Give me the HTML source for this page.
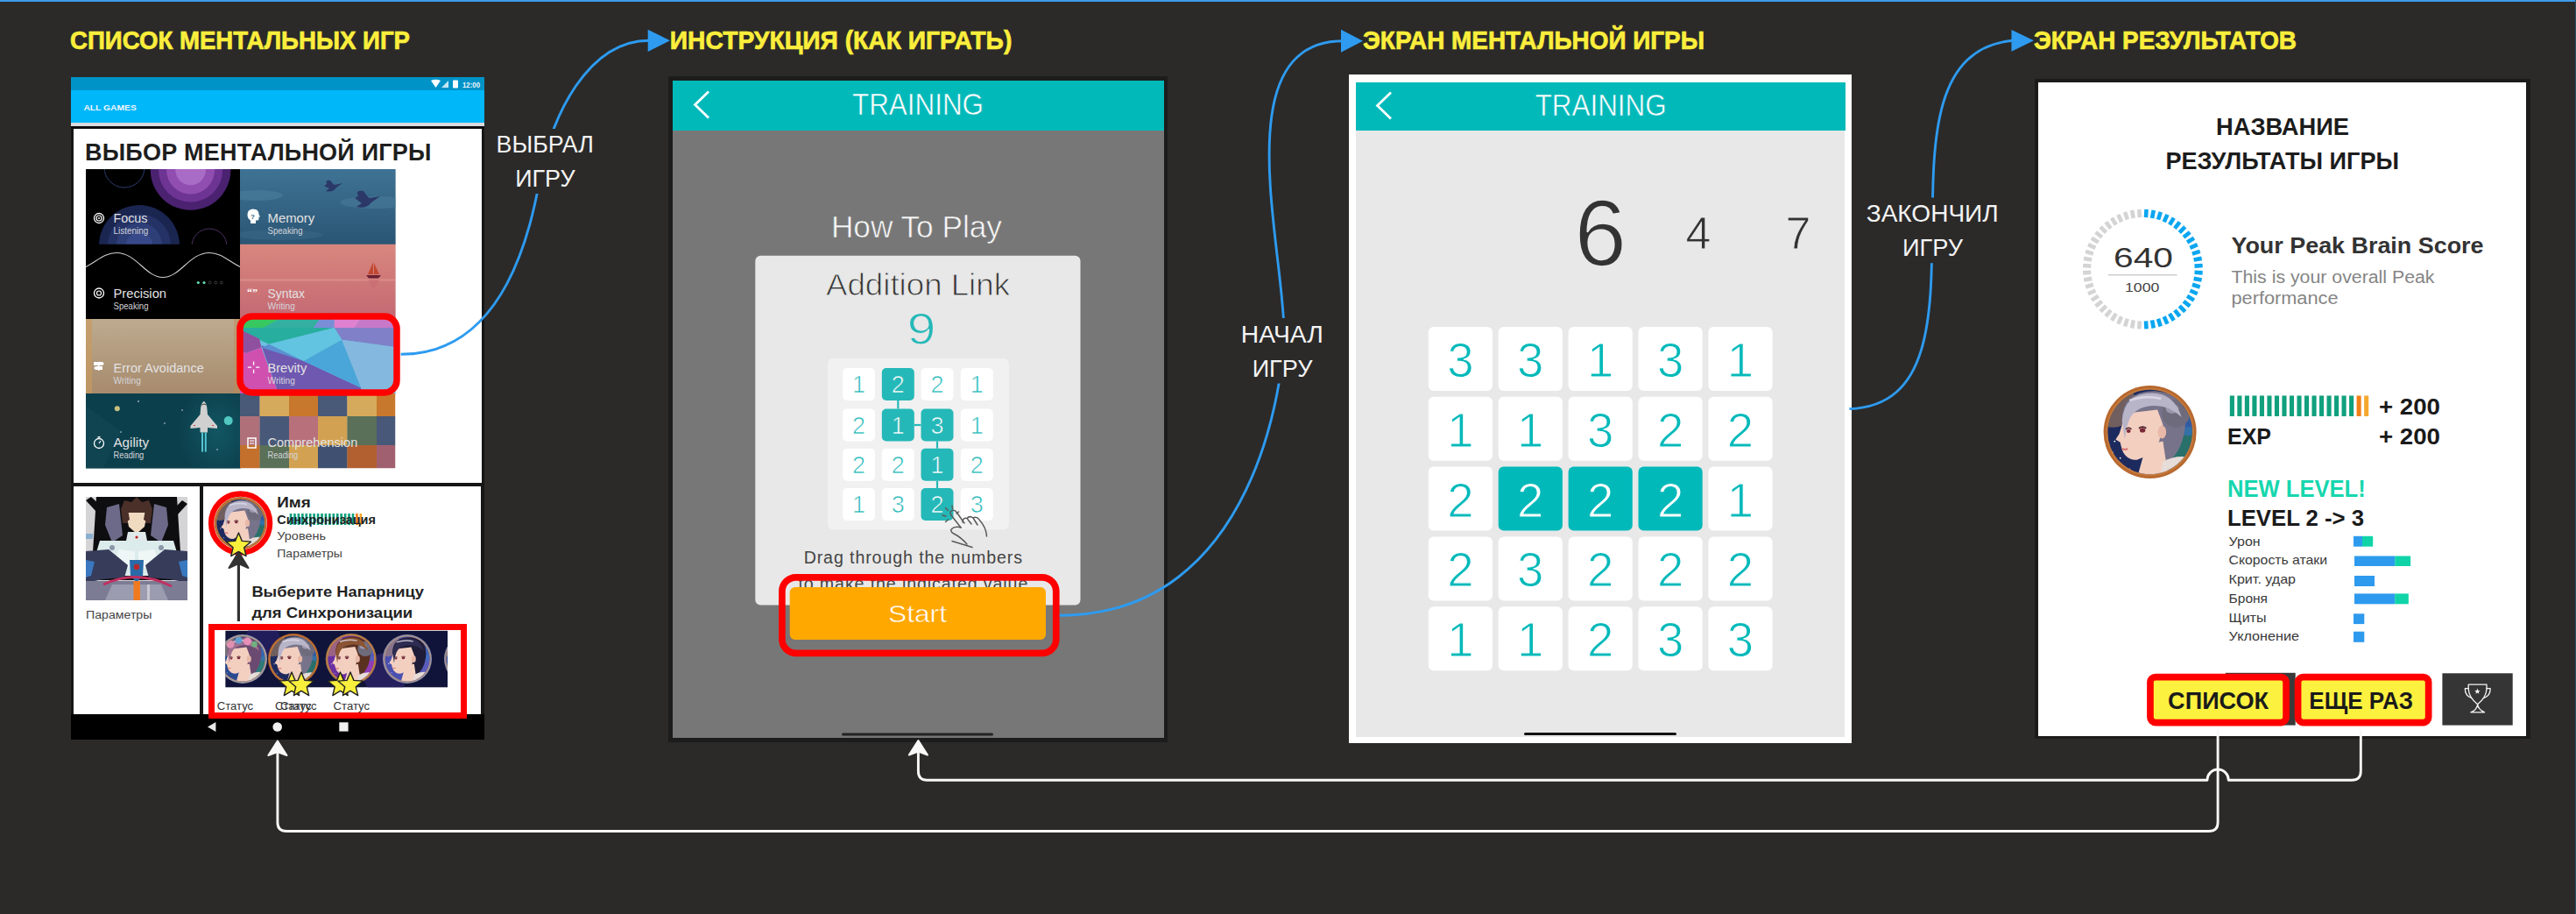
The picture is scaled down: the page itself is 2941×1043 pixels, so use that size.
<!DOCTYPE html>
<html><head><meta charset="utf-8">
<style>
html,body{margin:0;padding:0;}
body{width:2941px;height:1043px;background:#2b2a29;position:relative;overflow:hidden;font-family:"Liberation Sans",sans-serif;}
.a{position:absolute;}
.ttl{position:absolute;color:#fbee3c;font-weight:bold;font-size:28px;white-space:nowrap;line-height:1;}
.lbl{position:absolute;color:#f2f2f2;font-size:26px;text-align:center;white-space:nowrap;line-height:1;}
</style></head><body>
<div class="a" style="left:0;top:0;width:2941px;height:2px;background:#3d9be9"></div>

<!-- titles -->
<svg class="a" style="left:0;top:0" width="2941" height="80" viewBox="0 0 2941 80">
 <g font-family="Liberation Sans" font-weight="bold" font-size="29.5" fill="#fbee3c" stroke="#fbee3c" stroke-width="0.7">
  <text x="80" y="56.2" textLength="388" lengthAdjust="spacingAndGlyphs">СПИСОК МЕНТАЛЬНЫХ ИГР</text>
  <text x="764.8" y="56" textLength="390.5" lengthAdjust="spacingAndGlyphs">ИНСТРУКЦИЯ (КАК ИГРАТЬ)</text>
  <text x="1556" y="55.9" textLength="390" lengthAdjust="spacingAndGlyphs">ЭКРАН МЕНТАЛЬНОЙ ИГРЫ</text>
  <text x="2322" y="56" textLength="300" lengthAdjust="spacingAndGlyphs">ЭКРАН РЕЗУЛЬТАТОВ</text>
 </g>
</svg>
<!-- PANEL 1 -->
<div class="a" style="left:81px;top:88px;width:472px;height:756px;background:#161616;"></div>
<div class="a" style="left:81px;top:88px;width:472px;height:15px;background:#0093c8;"></div>
<div class="a" style="left:81px;top:103px;width:472px;height:37px;background:#00b7fa;"></div>
<div class="a" style="left:81px;top:140px;width:472px;height:4px;background:#d9dadd;"></div>
<div class="a" style="left:81px;top:144px;width:472px;height:3px;background:#0c0c0c;"></div>
<svg class="a" style="left:90px;top:112px" width="80" height="20" viewBox="90 112 80 20"><text x="95.4" y="125.7" font-family="Liberation Sans" font-weight="bold" font-size="9.8" fill="#f2f4ff" textLength="60.4" lengthAdjust="spacingAndGlyphs">ALL GAMES</text></svg>
<svg class="a" style="left:490px;top:90px" width="64" height="12" viewBox="0 0 64 12">
 <path d="M2 2 Q7.5 -0.5 13 2 L7.5 10 Z" fill="#fff"/>
 <path d="M14 10 L22 2 L22 10 Z" fill="#e8f4fb" opacity="0.85"/>
 <rect x="27" y="1.5" width="6" height="9" rx="1" fill="#fff"/>
 <text x="38" y="10" font-family="Liberation Sans" font-size="9" font-weight="bold" fill="#f0f6fa" textLength="20" lengthAdjust="spacingAndGlyphs">12:00</text>
</svg>
<div class="a" style="left:84px;top:147px;width:466px;height:404px;background:#fff;"></div>
<div class="a" style="left:97px;top:159px;color:#1e1e1e;font-weight:bold;font-size:27px;line-height:30px;white-space:nowrap;letter-spacing:0.2px;">ВЫБОР МЕНТАЛЬНОЙ ИГРЫ</div>
<!--GRID--><svg class="a" style="left:98px;top:193px;overflow:visible" width="353" height="341" viewBox="0 0 353 341"><defs><clipPath id="c0"><rect x="0" y="0" width="176.8" height="86.3"/></clipPath><clipPath id="c1"><rect x="176" y="0" width="177.8" height="86.3"/></clipPath><clipPath id="c2"><rect x="0" y="85.5" width="176.8" height="86.3"/></clipPath><clipPath id="c3"><rect x="176" y="85.5" width="177.8" height="86.3"/></clipPath><clipPath id="c4"><rect x="0" y="171" width="176.8" height="85.8"/></clipPath><clipPath id="c5"><rect x="176" y="171" width="177.8" height="85.8"/></clipPath><clipPath id="c6"><rect x="0" y="256" width="176.8" height="85.8"/></clipPath><clipPath id="c7"><rect x="176" y="256" width="177.8" height="85.8"/></clipPath><radialGradient id="gAg"><stop offset="0" stop-color="#14606c" stop-opacity="0.7"/><stop offset="1" stop-color="#14606c" stop-opacity="0"/></radialGradient><linearGradient id="gMem" x1="0" y1="0" x2="0" y2="1"><stop offset="0" stop-color="#3f7394"/><stop offset="1" stop-color="#2a5574"/></linearGradient><linearGradient id="gSyn" x1="0" y1="0" x2="0" y2="1"><stop offset="0" stop-color="#d8877e"/><stop offset="1" stop-color="#c46873"/></linearGradient><linearGradient id="gErr" x1="0" y1="0" x2="0" y2="1"><stop offset="0" stop-color="#bdab90"/><stop offset="1" stop-color="#a78a6c"/></linearGradient></defs><g clip-path="url(#c0)"><rect x="0" y="0" width="176.8" height="86.3" fill="#000"/><circle cx="119.6" cy="1" r="45.8" fill="#4a2270"/><circle cx="119.6" cy="1" r="36.6" fill="#6e3494"/><circle cx="119.6" cy="1" r="27.5" fill="#8f4eb0"/><circle cx="119.6" cy="1" r="17.3" fill="#a96cc6"/><circle cx="61" cy="87" r="46" fill="#1a2550"/><circle cx="61" cy="87" r="36" fill="#243266"/><circle cx="61" cy="87" r="26" fill="#2e3f78"/><circle cx="61" cy="87" r="15" fill="#38498a"/><circle cx="44" cy="-2" r="23" fill="none" stroke="#2d3d6e" stroke-width="1"/><circle cx="141" cy="88" r="20" fill="none" stroke="#4a3060" stroke-width="1"/></g><g clip-path="url(#c1)"><rect x="176" y="0" width="177.8" height="86.3" fill="url(#gMem)"/><ellipse cx="195" cy="30" rx="30" ry="6" fill="#4b7e9c" opacity="0.6"/><ellipse cx="330" cy="38" rx="40" ry="7" fill="#4b7e9c" opacity="0.5"/><ellipse cx="220" cy="75" rx="50" ry="6" fill="#3b6a88" opacity="0.5"/><g fill="#2b3868"><path d="M272 19 Q278 14 284 18 L293 16 L286 21 Q282 27 274 25 L278 22 Z"/><path d="M276 18 Q272 12 279 13 L283 18 Z"/></g>
<g fill="#2b3868"><path d="M307 33 Q316 26 324 33 L336 31 L326 38 Q320 46 309 43 L315 39 Z"/><path d="M312 32 Q306 23 317 25 L322 32 Z"/></g></g><g clip-path="url(#c2)"><rect x="0" y="85.5" width="176.8" height="86.3" fill="#000"/><path d="M0 111.5 C 14 104, 22 95.5, 35 95.5 C 58 95.5, 68 123.5, 88 123.5 C 108 123.5, 118 95.5, 141 95.5 C 154 95.5, 162 104, 176 111.5" fill="none" stroke="#d0d0d0" stroke-width="1.1"/><circle cx="128.3" cy="129.5" r="1.6" fill="#5fe0b0"/><circle cx="135" cy="129.5" r="1.6" fill="#5fe0b0"/><circle cx="141.6" cy="129.5" r="1.5" fill="none" stroke="#555" stroke-width="0.7"/><circle cx="148.2" cy="129.5" r="1.5" fill="none" stroke="#555" stroke-width="0.7"/><circle cx="154.8" cy="129.5" r="1.5" fill="none" stroke="#555" stroke-width="0.7"/></g><g clip-path="url(#c3)"><rect x="176" y="85.5" width="177.8" height="86.3" fill="url(#gSyn)"/><rect x="176" y="125" width="177" height="3" fill="#e0968e" opacity="0.5"/><path d="M328 106 l-6 14 h6z M329 107 l6 13 h-6z" fill="#c04830"/><path d="M320 121 h17 l-3 3.5 h-11z" fill="#6a2030"/><path d="M322 126 l6.5 12 l6.5 -12z" fill="#c86a70" opacity="0.6"/></g><g clip-path="url(#c4)"><rect x="0" y="171" width="176.8" height="85.8" fill="url(#gErr)"/><rect x="0" y="171" width="7" height="85" fill="#c89a60" opacity="0.7"/><rect x="169" y="171" width="7" height="85" fill="#c08a58" opacity="0.5"/></g><g clip-path="url(#c5)"><rect x="176" y="171" width="177.8" height="85.8" fill="#6cc0e0"/><polygon points="176.0,171.0 353.0,171.0 353.0,181.0 176.0,181.0" fill="#34b0a0"/><polygon points="176.0,171.0 221.0,171.0 202.0,181.0 176.0,181.0" fill="#38c860"/><polygon points="267.0,171.0 283.6,171.0 283.6,181.0 260.0,181.0" fill="#7a8ed8"/><polygon points="283.6,171.0 314.0,171.0 307.0,181.0 283.6,181.0" fill="#e080d0"/><polygon points="314.0,171.0 353.0,171.0 353.0,181.0 307.0,181.0" fill="#c878c8"/><polygon points="176.0,181.0 283.6,181.0 209.2,199.7 176.0,185.0" fill="#28ae9e"/><polygon points="283.6,181.0 353.0,181.0 353.0,203.0 292.3,194.8" fill="#8080c8"/><polygon points="176.0,183.0 198.3,193.7 200.4,203.6 183.0,210.0 176.0,207.0" fill="#9050a0"/><polygon points="176.0,207.0 183.0,210.0 200.4,203.6 220.0,256.0 176.0,256.0" fill="#d050b0"/><polygon points="200.4,201.0 248.6,218.9 314.2,249.5 314.0,256.0 220.0,256.0" fill="#6e58b0"/><polygon points="209.2,199.7 283.6,181.0 292.3,194.8 248.6,218.9" fill="#62c4e0"/><polygon points="248.6,218.9 292.3,194.8 314.2,249.5" fill="#4aa6d8"/><polygon points="292.3,194.8 353.0,203.0 353.0,256.0 314.0,256.0 314.2,249.5" fill="#84b8de"/><polygon points="200.4,203.6 209.2,199.7 248.6,218.9" fill="#5a90d0"/></g><g clip-path="url(#c6)"><rect x="0" y="256" width="176.8" height="85.8" fill="#0c3f4c"/><ellipse cx="150" cy="300" rx="45" ry="55" fill="url(#gAg)"/><polygon points="0,270 40,300 20,341 0,341" fill="#134753" opacity="0.7"/><circle cx="35.8" cy="273.2" r="3" fill="#c8c080"/><circle cx="162.7" cy="287.1" r="5" fill="#50c8c0"/><path d="M134.8 264.8 Q138 267 138.5 274 L139 280 L150 293 L150 296 L139 295 L139 300.6 L130.5 300.6 L130.5 295 L119.5 296 L119.5 293 L130.5 280 L131 274 Q131.5 267 134.8 264.8 Z" fill="#d0d0d0"/><path d="M132.5 269 q2.3 -2 4.6 0" stroke="#333" stroke-width="1" fill="none"/><rect x="123" y="292" width="2" height="1" fill="#d04030"/><rect x="144" y="292" width="2" height="1" fill="#d04030"/>
<rect x="132" y="300.6" width="2" height="22" fill="#60d8e8" opacity="0.85"/><rect x="135.8" y="300.6" width="2" height="22" fill="#60d8e8" opacity="0.85"/>
<circle cx="60" cy="265" r="0.8" fill="#fff"/><circle cx="90" cy="290" r="0.7" fill="#fff"/><circle cx="40" cy="300" r="0.7" fill="#fff"/><circle cx="110" cy="275" r="0.7" fill="#fff"/><circle cx="150" cy="320" r="0.7" fill="#fff"/></g><g clip-path="url(#c7)"><rect x="176" y="256" width="22.8" height="26.3" fill="#485a78"/><rect x="198.5" y="256" width="33.8" height="26.3" fill="#d6aa5c"/><rect x="232" y="256" width="33.3" height="26.3" fill="#c8782c"/><rect x="265" y="256" width="33.699999999999974" height="26.3" fill="#485a78"/><rect x="298.4" y="256" width="33.90000000000002" height="26.3" fill="#d6aa5c"/><rect x="332" y="256" width="21.3" height="26.3" fill="#c8782c"/><rect x="176" y="282" width="22.8" height="33.3" fill="#b0707a"/><rect x="198.5" y="282" width="33.8" height="33.3" fill="#485878"/><rect x="232" y="282" width="33.3" height="33.3" fill="#b8707a"/><rect x="265" y="282" width="33.699999999999974" height="33.3" fill="#d2a252"/><rect x="298.4" y="282" width="33.90000000000002" height="33.3" fill="#5a7058"/><rect x="332" y="282" width="21.3" height="33.3" fill="#485878"/><rect x="176" y="315" width="22.8" height="26.3" fill="#c2702c"/><rect x="198.5" y="315" width="33.8" height="26.3" fill="#5a7058"/><rect x="232" y="315" width="33.3" height="26.3" fill="#d2a252"/><rect x="265" y="315" width="33.699999999999974" height="26.3" fill="#405070"/><rect x="298.4" y="315" width="33.90000000000002" height="26.3" fill="#b26030"/><rect x="332" y="315" width="21.3" height="26.3" fill="#a06070"/></g><text x="31.5" y="61" font-family="Liberation Sans" font-size="15.5" fill="#e2e2e2" textLength="39" lengthAdjust="spacingAndGlyphs">Focus</text><text x="31.5" y="74" font-family="Liberation Sans" font-size="10.5" fill="#d4d4da" textLength="39.8" lengthAdjust="spacingAndGlyphs">Listening</text><text x="207.5" y="61" font-family="Liberation Sans" font-size="15.5" fill="#e2e2e2" textLength="53.7" lengthAdjust="spacingAndGlyphs">Memory</text><text x="207.5" y="74" font-family="Liberation Sans" font-size="10.5" fill="#d4d4da" textLength="40" lengthAdjust="spacingAndGlyphs">Speaking</text><text x="31.5" y="146.5" font-family="Liberation Sans" font-size="15.5" fill="#e2e2e2" textLength="60.5" lengthAdjust="spacingAndGlyphs">Precision</text><text x="31.5" y="159.5" font-family="Liberation Sans" font-size="10.5" fill="#d4d4da" textLength="40" lengthAdjust="spacingAndGlyphs">Speaking</text><text x="207.5" y="146.5" font-family="Liberation Sans" font-size="15.5" fill="#e2e2e2" textLength="42.4" lengthAdjust="spacingAndGlyphs">Syntax</text><text x="207.5" y="159.5" font-family="Liberation Sans" font-size="10.5" fill="#d4d4da" textLength="31.4" lengthAdjust="spacingAndGlyphs">Writing</text><text x="31.5" y="232" font-family="Liberation Sans" font-size="15.5" fill="#e2e2e2" textLength="103.3" lengthAdjust="spacingAndGlyphs">Error Avoidance</text><text x="31.5" y="245" font-family="Liberation Sans" font-size="10.5" fill="#d4d4da" textLength="31.4" lengthAdjust="spacingAndGlyphs">Writing</text><text x="207.5" y="232" font-family="Liberation Sans" font-size="15.5" fill="#e2e2e2" textLength="44.7" lengthAdjust="spacingAndGlyphs">Brevity</text><text x="207.5" y="245" font-family="Liberation Sans" font-size="10.5" fill="#d4d4da" textLength="31.4" lengthAdjust="spacingAndGlyphs">Writing</text><text x="31.5" y="317" font-family="Liberation Sans" font-size="15.5" fill="#e2e2e2" textLength="40.5" lengthAdjust="spacingAndGlyphs">Agility</text><text x="31.5" y="330" font-family="Liberation Sans" font-size="10.5" fill="#d4d4da" textLength="34.8" lengthAdjust="spacingAndGlyphs">Reading</text><text x="207.5" y="317" font-family="Liberation Sans" font-size="15.5" fill="#e2e2e2" textLength="102.8" lengthAdjust="spacingAndGlyphs">Comprehension</text><text x="207.5" y="330" font-family="Liberation Sans" font-size="10.5" fill="#d4d4da" textLength="34.8" lengthAdjust="spacingAndGlyphs">Reading</text><circle cx="15" cy="56" r="5.5" fill="none" stroke="#fff" stroke-width="1.3"/><circle cx="15" cy="56" r="3" fill="none" stroke="#fff" stroke-width="1.2"/><circle cx="15" cy="56" r="1" fill="#fff"/><path d="M188 62 v-3.5 q-3.5 -2 -3.5 -6.5 q0 -6.5 6.5 -6.5 q6.5 0 6.5 6 l1.5 3 h-1.5 v2.5 q0 1.5 -2 1.5 h-1.5 v3.5z" fill="#fff"/><text x="190.5" y="56.5" text-anchor="middle" font-family="Liberation Sans" font-weight="bold" font-size="8" fill="#2f5f80">?</text><circle cx="15" cy="141.5" r="5.5" fill="none" stroke="#fff" stroke-width="1.3"/><circle cx="15" cy="141.5" r="2.5" fill="none" stroke="#fff" stroke-width="1.2"/><text x="184" y="145" font-family="Liberation Serif" font-size="12" font-weight="bold" fill="#fff">“”</text><rect x="14" y="220" width="1.5" height="10" fill="#fff"/><path d="M9 220 h10 l2 2 l-2 2 h-10z M11 225 h8 v4 h-8 l-2 -2z" fill="#fff"/><path d="M191.6 219.5 v4.2 M191.6 228.7 v4.2 M184.9 226.2 h4.2 M194.1 226.2 h4.2" stroke="#fff" stroke-width="1.3"/><circle cx="15" cy="313" r="5.5" fill="none" stroke="#fff" stroke-width="1.3"/><path d="M15 313 l2 -3" stroke="#fff" stroke-width="1.2"/><rect x="13.5" y="305" width="3" height="1.5" fill="#fff"/><rect x="185" y="307" width="9" height="11" fill="none" stroke="#fff" stroke-width="1.5"/><path d="M187 310 h5 M187 313 h5" stroke="#fff" stroke-width="1"/>
<rect x="176" y="168" width="179" height="87" rx="14" fill="none" stroke="#ff0000" stroke-width="7.5"/>
</svg><!--/GRID-->
<div class="a" style="left:84px;top:555px;width:144px;height:260px;background:#fff;"></div>
<div class="a" style="left:232px;top:555px;width:317px;height:260px;background:#fff;"></div>
<div class="a" style="left:81px;top:815px;width:472px;height:29px;background:#000;"></div>


<!--LOW1-->
<svg class="a" style="left:98px;top:567px" width="116" height="118" viewBox="0 0 116 118">
 <rect width="116" height="118" fill="#d4d4d6"/>
 <polygon points="12,0 104,0 110,95 6,95" fill="#0e0e10"/>
 <polygon points="0,4 6,0 30,22 24,30" fill="#0e0e10"/><polygon points="116,8 110,4 88,26 94,32" fill="#0e0e10"/>
 <rect x="0" y="42" width="8" height="6" fill="#8ab0d0"/>
 <polygon points="24,12 38,8 42,44 30,52 22,32" fill="#6c6a88"/><polygon points="92,12 78,8 74,44 86,52 94,32" fill="#6c6a88"/>
 <polygon points="40,14 44,4 52,6 58,0 64,6 72,4 76,14 74,30 42,30" fill="#4a3028"/>
 <polygon points="46,18 70,18 67,34 58,42 49,34" fill="#f0dac0"/>
 <polygon points="42,18 48,14 50,26 44,30" fill="#4a3028"/><polygon points="74,18 68,14 66,26 72,30" fill="#4a3028"/>
 <polygon points="48,40 68,40 70,50 46,50" fill="#dfe9ea"/><circle cx="58" cy="46" r="1.6" fill="#c02020"/>
 <polygon points="16,50 100,50 106,70 92,90 24,90 10,70" fill="#dcebeb"/>
 <polygon points="38,60 56,62 56,80 40,82 34,70" fill="#eef6f6"/><polygon points="78,60 60,62 60,80 76,82 82,70" fill="#eef6f6"/>
 <circle cx="30" cy="58" r="3" fill="#8a98a8"/><circle cx="86" cy="58" r="3" fill="#8a98a8"/>
 <polygon points="0,62 26,60 48,78 44,92 20,94 0,98" fill="#363c5a"/><polygon points="116,62 90,60 68,78 72,92 96,94 116,98" fill="#363c5a"/>
 <polygon points="0,72 10,74 6,90 0,92" fill="#3a78c0"/><polygon points="116,72 106,74 110,90 116,92" fill="#3a78c0"/>
 <polygon points="50,72 66,72 65,90 58,98 51,90" fill="#2a6aa8"/><circle cx="58" cy="80" r="3.2" fill="#b82828"/>
 <rect x="0" y="96" width="116" height="22" fill="#7c7c94"/>
 <polygon points="30,100 86,100 94,118 22,118" fill="#9c9cb0"/>
 <path d="M20 100 Q58 82 98 102" fill="none" stroke="#c03060" stroke-width="3"/>
 <rect x="54.5" y="96" width="7.5" height="22" fill="#f07a20"/>
 <rect x="70" y="100" width="3" height="18" fill="#c8c8d4"/>
</svg>
<svg class="a" style="left:95px;top:690px" width="90" height="22" viewBox="95 690 90 22"><text x="98" y="705.7" font-family="Liberation Sans" font-size="12.5" fill="#444" textLength="75.4" lengthAdjust="spacingAndGlyphs">Параметры</text></svg>

<svg class="a" style="left:232px;top:555px" width="317" height="270" viewBox="232 555 317 270">
 <defs>
  <radialGradient id="av1" cx="0.45" cy="0.4" r="0.7"><stop offset="0" stop-color="#f0c8b8"/><stop offset="0.35" stop-color="#c8a0a8"/><stop offset="0.7" stop-color="#7a7090"/><stop offset="1" stop-color="#3a3858"/></radialGradient>
  <clipPath id="strip"><rect x="257.2" y="719.6" width="253.8" height="65"/></clipPath>
 </defs>
 <circle cx="274.6" cy="597" r="33.5" fill="none" stroke="#ff0000" stroke-width="6.4"/>
<g transform="translate(274.6,597) scale(0.6)"><clipPath id="pcm1"><circle cx="0" cy="0" r="45.5"/></clipPath><circle cx="0" cy="0" r="50" fill="#b8682e"/><circle cx="0" cy="0" r="47.5" fill="#d08a48" opacity="0.5"/><g clip-path="url(#pcm1)"><rect x="-50" y="-50" width="100" height="100" fill="#1d2a5e"/><circle cx="-40" cy="-30" r="25" fill="#d8a060" opacity="0.45"/><circle cx="45" cy="20" r="26" fill="#2f8f70" opacity="0.7"/><circle cx="42" cy="-10" r="14" fill="#3a70c0" opacity="0.7"/><circle cx="-38" cy="10" r="0.9" fill="#fff"/><circle cx="-32" cy="28" r="0.8" fill="#fff"/><circle cx="-22" cy="40" r="0.8" fill="#fff"/><circle cx="-40" cy="22" r="0.7" fill="#fff"/><path d="M-30 -5 Q-34 -44 5 -44 Q40 -42 38 -8 Q36 20 18 34 L0 34 Z" fill="#77738a"/><circle cx="28" cy="-20" r="15" fill="#6e6b7c"/><ellipse cx="24" cy="-25" rx="7" ry="5" fill="#a8a4b8" opacity="0.8"/><path d="M-4 14 L14 10 L20 50 L-14 50 Z" fill="#f3cfc0"/><path d="M14 32 Q32 22 50 30 L50 50 L10 50 Z" fill="#e6dcd8"/><path d="M-26 -20 Q-30 -8 -33 2 L-37 8 L-32 11 Q-31 16 -30 19 Q-26 30 -14 30 Q0 26 10 10 L14 -8 L8 -24 Z" fill="#f3cfc0"/><ellipse cx="13" cy="0" rx="4.5" ry="7" fill="#e8b8a8"/><path d="M-30 -12 Q-28 -42 2 -42 Q26 -42 34 -16 Q20 -30 0 -28 Q-16 -26 -22 -14 Q-26 -4 -27 8 Z" fill="#b9b5c9"/><path d="M-22 -34 Q-5 -40 12 -36" stroke="#e0dcea" stroke-width="2.5" fill="none" opacity="0.8"/><path d="M-26 -3 q3 -3 6 0" stroke="#4a2028" stroke-width="1.5" fill="none"/><ellipse cx="-23" cy="-1" rx="2.2" ry="2" fill="#7a2838"/><path d="M-12 -4 q4 -3 8 0" stroke="#4a2028" stroke-width="1.5" fill="none"/><ellipse cx="-8" cy="-2" rx="3" ry="2.5" fill="#7a2838"/><path d="M-30 18 q3 1.5 6 0" stroke="#d86a6a" stroke-width="1.8" fill="none"/></g></g>
 <line x1="272.4" y1="709" x2="272.4" y2="642" stroke="#333" stroke-width="3.2"/>
 <path d="M261.5 648 L272.4 630 L283.5 648 L272.4 643 Z" fill="#333" stroke="#333" stroke-width="2" stroke-linejoin="round"/>
<polygon points="272.40,608.00 276.29,617.36 286.40,618.17 278.70,624.77 281.05,634.63 272.40,629.35 263.75,634.63 266.10,624.77 258.40,618.17 268.51,617.36" fill="#f8ee3c" stroke="#222" stroke-width="1.4" stroke-linejoin="round"/>
 <text x="316.3" y="579" font-family="Liberation Sans" font-weight="bold" font-size="16.5" fill="#222" textLength="38.5" lengthAdjust="spacingAndGlyphs">Имя</text>
<rect x="330.70" y="586" width="2.66" height="13" fill="#10a07e"/><rect x="335.14" y="586" width="2.66" height="13" fill="#10a07e"/><rect x="339.57" y="586" width="2.66" height="13" fill="#10a07e"/><rect x="344.01" y="586" width="2.66" height="13" fill="#10a07e"/><rect x="348.44" y="586" width="2.66" height="13" fill="#10a07e"/><rect x="352.88" y="586" width="2.66" height="13" fill="#10a07e"/><rect x="357.31" y="586" width="2.66" height="13" fill="#10a07e"/><rect x="361.75" y="586" width="2.66" height="13" fill="#10a07e"/><rect x="366.18" y="586" width="2.66" height="13" fill="#10a07e"/><rect x="370.62" y="586" width="2.66" height="13" fill="#10a07e"/><rect x="375.05" y="586" width="2.66" height="13" fill="#10a07e"/><rect x="379.49" y="586" width="2.66" height="13" fill="#10a07e"/><rect x="383.93" y="586" width="2.66" height="13" fill="#10a07e"/><rect x="388.36" y="586" width="2.66" height="13" fill="#10a07e"/><rect x="392.80" y="586" width="2.66" height="13" fill="#10a07e"/><rect x="397.23" y="586" width="2.66" height="13" fill="#10a07e"/><rect x="401.67" y="586" width="2.66" height="13" fill="#10a07e"/><rect x="406.10" y="586" width="2.66" height="13" fill="#f08018"/><rect x="410.54" y="586" width="2.66" height="13" fill="#f5a830"/>
 <text x="316.3" y="598.3" font-family="Liberation Sans" font-weight="bold" font-size="14" fill="#222" textLength="112.60000000000001" lengthAdjust="spacingAndGlyphs">Синхронизация</text>
 <text x="316.3" y="616.4" font-family="Liberation Sans" font-size="13" fill="#444" textLength="55.7" lengthAdjust="spacingAndGlyphs">Уровень</text>
 <text x="316.3" y="636" font-family="Liberation Sans" font-size="13" fill="#444" textLength="74.60000000000001" lengthAdjust="spacingAndGlyphs">Параметры</text>
 <text x="287.4" y="680.5" font-family="Liberation Sans" font-weight="bold" font-size="16.5" fill="#222" textLength="196.5" lengthAdjust="spacingAndGlyphs">Выберите Напарницу</text>
 <text x="287.4" y="704.5" font-family="Liberation Sans" font-weight="bold" font-size="16.5" fill="#222" textLength="183.79999999999998" lengthAdjust="spacingAndGlyphs">для Синхронизации</text>
 <g clip-path="url(#strip)">
  <rect x="257.2" y="719.6" width="253.8" height="65" fill="#10143a"/>
  <circle cx="300" cy="730" r="20" fill="#2a2068" opacity="0.7"/>
  <circle cx="440" cy="770" r="25" fill="#3a2a80" opacity="0.5"/>
<g transform="translate(277,752) scale(0.56)"><clipPath id="pcs1"><circle cx="0" cy="0" r="45.5"/></clipPath><circle cx="0" cy="0" r="50" fill="#9a9aaa"/><circle cx="0" cy="0" r="47.5" fill="#d08a48" opacity="0.5"/><g clip-path="url(#pcs1)"><rect x="-50" y="-50" width="100" height="100" fill="#2a4a90"/><circle cx="-40" cy="-30" r="25" fill="#d8a060" opacity="0.45"/><circle cx="45" cy="20" r="26" fill="#2f8f70" opacity="0.7"/><circle cx="42" cy="-10" r="14" fill="#3a70c0" opacity="0.7"/><circle cx="-38" cy="10" r="0.9" fill="#fff"/><circle cx="-32" cy="28" r="0.8" fill="#fff"/><circle cx="-22" cy="40" r="0.8" fill="#fff"/><circle cx="-40" cy="22" r="0.7" fill="#fff"/><path d="M-30 -5 Q-34 -44 5 -44 Q40 -42 38 -8 Q36 20 18 34 L0 34 Z" fill="#6a4a70"/><path d="M-4 14 L14 10 L20 50 L-14 50 Z" fill="#f3cfc0"/><path d="M14 32 Q32 22 50 30 L50 50 L10 50 Z" fill="#e6dcd8"/><path d="M-26 -20 Q-30 -8 -33 2 L-37 8 L-32 11 Q-31 16 -30 19 Q-26 30 -14 30 Q0 26 10 10 L14 -8 L8 -24 Z" fill="#f3cfc0"/><ellipse cx="13" cy="0" rx="4.5" ry="7" fill="#e8b8a8"/><path d="M-30 -12 Q-28 -42 2 -42 Q26 -42 34 -16 Q20 -30 0 -28 Q-16 -26 -22 -14 Q-26 -4 -27 8 Z" fill="#a07090"/><path d="M-22 -34 Q-5 -40 12 -36" stroke="#e0dcea" stroke-width="2.5" fill="none" opacity="0.8"/><circle cx="-25" cy="-30" r="8" fill="#e090b0"/><circle cx="-8" cy="-38" r="7" fill="#60a0d0"/><circle cx="10" cy="-36" r="8" fill="#e890b8"/><circle cx="24" cy="-30" r="6" fill="#70b080"/><path d="M-26 -3 q3 -3 6 0" stroke="#4a2028" stroke-width="1.5" fill="none"/><ellipse cx="-23" cy="-1" rx="2.2" ry="2" fill="#7a2838"/><path d="M-12 -4 q4 -3 8 0" stroke="#4a2028" stroke-width="1.5" fill="none"/><ellipse cx="-8" cy="-2" rx="3" ry="2.5" fill="#7a2838"/><path d="M-30 18 q3 1.5 6 0" stroke="#d86a6a" stroke-width="1.8" fill="none"/></g></g><g transform="translate(335,752) scale(0.58)"><clipPath id="pcs2"><circle cx="0" cy="0" r="45.5"/></clipPath><circle cx="0" cy="0" r="50" fill="#b8682e"/><circle cx="0" cy="0" r="47.5" fill="#d08a48" opacity="0.5"/><g clip-path="url(#pcs2)"><rect x="-50" y="-50" width="100" height="100" fill="#1d2a5e"/><circle cx="-40" cy="-30" r="25" fill="#d8a060" opacity="0.45"/><circle cx="45" cy="20" r="26" fill="#2f8f70" opacity="0.7"/><circle cx="42" cy="-10" r="14" fill="#3a70c0" opacity="0.7"/><circle cx="-38" cy="10" r="0.9" fill="#fff"/><circle cx="-32" cy="28" r="0.8" fill="#fff"/><circle cx="-22" cy="40" r="0.8" fill="#fff"/><circle cx="-40" cy="22" r="0.7" fill="#fff"/><path d="M-30 -5 Q-34 -44 5 -44 Q40 -42 38 -8 Q36 20 18 34 L0 34 Z" fill="#77738a"/><circle cx="28" cy="-20" r="15" fill="#6e6b7c"/><ellipse cx="24" cy="-25" rx="7" ry="5" fill="#a8a4b8" opacity="0.8"/><path d="M-4 14 L14 10 L20 50 L-14 50 Z" fill="#f3cfc0"/><path d="M14 32 Q32 22 50 30 L50 50 L10 50 Z" fill="#e6dcd8"/><path d="M-26 -20 Q-30 -8 -33 2 L-37 8 L-32 11 Q-31 16 -30 19 Q-26 30 -14 30 Q0 26 10 10 L14 -8 L8 -24 Z" fill="#f3cfc0"/><ellipse cx="13" cy="0" rx="4.5" ry="7" fill="#e8b8a8"/><path d="M-30 -12 Q-28 -42 2 -42 Q26 -42 34 -16 Q20 -30 0 -28 Q-16 -26 -22 -14 Q-26 -4 -27 8 Z" fill="#b9b5c9"/><path d="M-22 -34 Q-5 -40 12 -36" stroke="#e0dcea" stroke-width="2.5" fill="none" opacity="0.8"/><path d="M-26 -3 q3 -3 6 0" stroke="#4a2028" stroke-width="1.5" fill="none"/><ellipse cx="-23" cy="-1" rx="2.2" ry="2" fill="#7a2838"/><path d="M-12 -4 q4 -3 8 0" stroke="#4a2028" stroke-width="1.5" fill="none"/><ellipse cx="-8" cy="-2" rx="3" ry="2.5" fill="#7a2838"/><path d="M-30 18 q3 1.5 6 0" stroke="#d86a6a" stroke-width="1.8" fill="none"/></g></g><g transform="translate(400.7,752) scale(0.58)"><clipPath id="pcs3"><circle cx="0" cy="0" r="45.5"/></clipPath><circle cx="0" cy="0" r="50" fill="#b07a48"/><circle cx="0" cy="0" r="47.5" fill="#d08a48" opacity="0.5"/><g clip-path="url(#pcs3)"><rect x="-50" y="-50" width="100" height="100" fill="#6a30a0"/><circle cx="-40" cy="-30" r="25" fill="#d8a060" opacity="0.45"/><circle cx="45" cy="20" r="26" fill="#a040c0" opacity="0.7"/><circle cx="42" cy="-10" r="14" fill="#3a70c0" opacity="0.7"/><circle cx="-38" cy="10" r="0.9" fill="#fff"/><circle cx="-32" cy="28" r="0.8" fill="#fff"/><circle cx="-22" cy="40" r="0.8" fill="#fff"/><circle cx="-40" cy="22" r="0.7" fill="#fff"/><path d="M-30 -5 Q-34 -44 5 -44 Q40 -42 38 -8 Q36 20 18 34 L0 34 Z" fill="#5a3020"/><circle cx="28" cy="-20" r="15" fill="#6e6b7c"/><ellipse cx="24" cy="-25" rx="7" ry="5" fill="#a8a4b8" opacity="0.8"/><path d="M-4 14 L14 10 L20 50 L-14 50 Z" fill="#f3cfc0"/><path d="M14 32 Q32 22 50 30 L50 50 L10 50 Z" fill="#e6dcd8"/><path d="M-26 -20 Q-30 -8 -33 2 L-37 8 L-32 11 Q-31 16 -30 19 Q-26 30 -14 30 Q0 26 10 10 L14 -8 L8 -24 Z" fill="#f3cfc0"/><ellipse cx="13" cy="0" rx="4.5" ry="7" fill="#e8b8a8"/><path d="M-30 -12 Q-28 -42 2 -42 Q26 -42 34 -16 Q20 -30 0 -28 Q-16 -26 -22 -14 Q-26 -4 -27 8 Z" fill="#8a5434"/><path d="M-22 -34 Q-5 -40 12 -36" stroke="#e0dcea" stroke-width="2.5" fill="none" opacity="0.8"/><path d="M-26 -3 q3 -3 6 0" stroke="#4a2028" stroke-width="1.5" fill="none"/><ellipse cx="-23" cy="-1" rx="2.2" ry="2" fill="#7a2838"/><path d="M-12 -4 q4 -3 8 0" stroke="#4a2028" stroke-width="1.5" fill="none"/><ellipse cx="-8" cy="-2" rx="3" ry="2.5" fill="#7a2838"/><path d="M-30 18 q3 1.5 6 0" stroke="#d86a6a" stroke-width="1.8" fill="none"/></g></g><g transform="translate(465,752) scale(0.56)"><clipPath id="pcs4"><circle cx="0" cy="0" r="45.5"/></clipPath><circle cx="0" cy="0" r="50" fill="#9090a8"/><circle cx="0" cy="0" r="47.5" fill="#d08a48" opacity="0.5"/><g clip-path="url(#pcs4)"><rect x="-50" y="-50" width="100" height="100" fill="#4a50b0"/><circle cx="-40" cy="-30" r="25" fill="#d8a060" opacity="0.45"/><circle cx="45" cy="20" r="26" fill="#6060c0" opacity="0.7"/><circle cx="42" cy="-10" r="14" fill="#3a70c0" opacity="0.7"/><circle cx="-38" cy="10" r="0.9" fill="#fff"/><circle cx="-32" cy="28" r="0.8" fill="#fff"/><circle cx="-22" cy="40" r="0.8" fill="#fff"/><circle cx="-40" cy="22" r="0.7" fill="#fff"/><path d="M-30 -5 Q-34 -44 5 -44 Q40 -42 38 -8 Q36 20 18 34 L0 34 Z" fill="#1e1c38"/><path d="M-4 14 L14 10 L20 50 L-14 50 Z" fill="#f3cfc0"/><path d="M14 32 Q32 22 50 30 L50 50 L10 50 Z" fill="#e6dcd8"/><path d="M-26 -20 Q-30 -8 -33 2 L-37 8 L-32 11 Q-31 16 -30 19 Q-26 30 -14 30 Q0 26 10 10 L14 -8 L8 -24 Z" fill="#f3cfc0"/><ellipse cx="13" cy="0" rx="4.5" ry="7" fill="#e8b8a8"/><path d="M-30 -12 Q-28 -42 2 -42 Q26 -42 34 -16 Q20 -30 0 -28 Q-16 -26 -22 -14 Q-26 -4 -27 8 Z" fill="#2e2c50"/><path d="M-22 -34 Q-5 -40 12 -36" stroke="#e0dcea" stroke-width="2.5" fill="none" opacity="0.8"/><path d="M-26 -3 q3 -3 6 0" stroke="#4a2028" stroke-width="1.5" fill="none"/><ellipse cx="-23" cy="-1" rx="2.2" ry="2" fill="#7a2838"/><path d="M-12 -4 q4 -3 8 0" stroke="#4a2028" stroke-width="1.5" fill="none"/><ellipse cx="-8" cy="-2" rx="3" ry="2.5" fill="#7a2838"/><path d="M-30 18 q3 1.5 6 0" stroke="#d86a6a" stroke-width="1.8" fill="none"/></g></g><g transform="translate(535,752) scale(0.56)"><clipPath id="pcs5"><circle cx="0" cy="0" r="45.5"/></clipPath><circle cx="0" cy="0" r="50" fill="#9090a8"/><circle cx="0" cy="0" r="47.5" fill="#d08a48" opacity="0.5"/><g clip-path="url(#pcs5)"><rect x="-50" y="-50" width="100" height="100" fill="#3a50a0"/><circle cx="-40" cy="-30" r="25" fill="#d8a060" opacity="0.45"/><circle cx="45" cy="20" r="26" fill="#5050b0" opacity="0.7"/><circle cx="42" cy="-10" r="14" fill="#3a70c0" opacity="0.7"/><circle cx="-38" cy="10" r="0.9" fill="#fff"/><circle cx="-32" cy="28" r="0.8" fill="#fff"/><circle cx="-22" cy="40" r="0.8" fill="#fff"/><circle cx="-40" cy="22" r="0.7" fill="#fff"/><path d="M-30 -5 Q-34 -44 5 -44 Q40 -42 38 -8 Q36 20 18 34 L0 34 Z" fill="#1e1c38"/><path d="M-4 14 L14 10 L20 50 L-14 50 Z" fill="#f3cfc0"/><path d="M14 32 Q32 22 50 30 L50 50 L10 50 Z" fill="#e6dcd8"/><path d="M-26 -20 Q-30 -8 -33 2 L-37 8 L-32 11 Q-31 16 -30 19 Q-26 30 -14 30 Q0 26 10 10 L14 -8 L8 -24 Z" fill="#f3cfc0"/><ellipse cx="13" cy="0" rx="4.5" ry="7" fill="#e8b8a8"/><path d="M-30 -12 Q-28 -42 2 -42 Q26 -42 34 -16 Q20 -30 0 -28 Q-16 -26 -22 -14 Q-26 -4 -27 8 Z" fill="#2e2c50"/><path d="M-22 -34 Q-5 -40 12 -36" stroke="#e0dcea" stroke-width="2.5" fill="none" opacity="0.8"/><path d="M-26 -3 q3 -3 6 0" stroke="#4a2028" stroke-width="1.5" fill="none"/><ellipse cx="-23" cy="-1" rx="2.2" ry="2" fill="#7a2838"/><path d="M-12 -4 q4 -3 8 0" stroke="#4a2028" stroke-width="1.5" fill="none"/><ellipse cx="-8" cy="-2" rx="3" ry="2.5" fill="#7a2838"/><path d="M-30 18 q3 1.5 6 0" stroke="#d86a6a" stroke-width="1.8" fill="none"/></g></g>
 </g>
<polygon points="333.00,767.00 336.89,776.36 347.00,777.17 339.30,783.77 341.65,793.63 333.00,788.35 324.35,793.63 326.70,783.77 319.00,777.17 329.11,776.36" fill="#f8ee3c" stroke="#222" stroke-width="1.4" stroke-linejoin="round"/><polygon points="344.00,767.00 347.89,776.36 358.00,777.17 350.30,783.77 352.65,793.63 344.00,788.35 335.35,793.63 337.70,783.77 330.00,777.17 340.11,776.36" fill="#f8ee3c" stroke="#222" stroke-width="1.4" stroke-linejoin="round"/><polygon points="388.50,767.00 392.39,776.36 402.50,777.17 394.80,783.77 397.15,793.63 388.50,788.35 379.85,793.63 382.20,783.77 374.50,777.17 384.61,776.36" fill="#f8ee3c" stroke="#222" stroke-width="1.4" stroke-linejoin="round"/><polygon points="400.00,767.00 403.89,776.36 414.00,777.17 406.30,783.77 408.65,793.63 400.00,788.35 391.35,793.63 393.70,783.77 386.00,777.17 396.11,776.36" fill="#f8ee3c" stroke="#222" stroke-width="1.4" stroke-linejoin="round"/>
 <text x="247.7" y="809.7" font-family="Liberation Sans" font-size="12.5" fill="#333" textLength="41.5" lengthAdjust="spacingAndGlyphs">Статус</text>
 <text x="314" y="809.7" font-family="Liberation Sans" font-size="12.5" fill="#333" textLength="41.5" lengthAdjust="spacingAndGlyphs">Статус</text>
 <text x="320" y="809.7" font-family="Liberation Sans" font-size="12.5" fill="#333" textLength="41.5" lengthAdjust="spacingAndGlyphs">Статус</text>
 <text x="380.6" y="809.7" font-family="Liberation Sans" font-size="12.5" fill="#333" textLength="41.5" lengthAdjust="spacingAndGlyphs">Статус</text>
</svg>
<div class="a" style="left:238px;top:711.7px;width:295px;height:108.3px;box-sizing:border-box;border:7.6px solid #ff0000;"></div>
<svg class="a" style="left:230px;top:818px" width="180" height="24" viewBox="230 818 180 24">
 <path d="M237 829.5 L246.4 824 L246.4 835 Z" fill="#e8e8e8"/>
 <circle cx="316.7" cy="829.5" r="5.3" fill="#f0f0f0"/>
 <rect x="387.3" y="824.3" width="10.3" height="10.3" fill="#f0f0f0"/>
</svg>
<!--/LOW1-->

<!-- PANEL 2 -->
<div class="a" style="left:763px;top:87px;width:570px;height:760px;background:#1c1c1c;"></div>
<div class="a" style="left:768px;top:92px;width:561px;height:750px;background:#777777;"></div>
<div class="a" style="left:768px;top:92px;width:561px;height:57px;background:#02b9ba;"></div>
<svg class="a" style="left:763px;top:87px" width="570" height="760" viewBox="763 87 570 760">
 <path d="M809 104.5 L793.5 119.5 L809 134.5" fill="none" stroke="#fff" stroke-width="2.8"/>
 <text x="1048" y="131" text-anchor="middle" font-family="Liberation Sans" font-size="34.6" fill="#fff" stroke="#02b9ba" stroke-width="0.6" textLength="150" lengthAdjust="spacingAndGlyphs">TRAINING</text>
 <text x="1046.4" y="271" text-anchor="middle" font-family="Liberation Sans" font-size="35.6" fill="#f8f8f8" stroke="#777777" stroke-width="0.6" textLength="195" lengthAdjust="spacingAndGlyphs">How To Play</text>
 <rect x="862.3" y="291.7" width="371.2" height="398.7" rx="6" fill="#e8e8e8"/>
 <text x="1048" y="337" text-anchor="middle" font-family="Liberation Sans" font-size="35" fill="#333" stroke="#e8e8e8" stroke-width="0.9" textLength="210" lengthAdjust="spacingAndGlyphs">Addition Link</text>
 <text x="0" y="393.5" transform="translate(1052,0) scale(1.17,1)" text-anchor="middle" font-family="Liberation Sans" font-size="50" fill="#25b8b8" stroke="#e8e8e8" stroke-width="1">9</text>
 <rect x="945" y="409" width="206.8" height="195.3" rx="6" fill="#f1f1f1"/>
 <g stroke="#25b8b8" stroke-width="2.2"><line x1="1025.3" y1="457" x2="1025.3" y2="466.5"/><line x1="1043.8" y1="485.0" x2="1051.5" y2="485.0"/><line x1="1070.0" y1="503.5" x2="1070.0" y2="511.7"/><line x1="1070.0" y1="548.7" x2="1070.0" y2="557"/></g>
 <rect x="962" y="420" width="37" height="37" rx="5" fill="#ffffff"/><text x="980.5" y="448" text-anchor="middle" font-family="Liberation Sans" font-size="27" fill="#25b8b8" stroke="#ffffff" stroke-width="0.7">1</text>
 <rect x="1006.8" y="420" width="37" height="37" rx="5" fill="#25b8b8"/><text x="1025.3" y="448" text-anchor="middle" font-family="Liberation Sans" font-size="27" fill="#ffffff" stroke="#25b8b8" stroke-width="0.7">2</text>
 <rect x="1051.5" y="420" width="37" height="37" rx="5" fill="#ffffff"/><text x="1070.0" y="448" text-anchor="middle" font-family="Liberation Sans" font-size="27" fill="#25b8b8" stroke="#ffffff" stroke-width="0.7">2</text>
 <rect x="1096.8" y="420" width="37" height="37" rx="5" fill="#ffffff"/><text x="1115.3" y="448" text-anchor="middle" font-family="Liberation Sans" font-size="27" fill="#25b8b8" stroke="#ffffff" stroke-width="0.7">1</text>
 <rect x="962" y="466.5" width="37" height="37" rx="5" fill="#ffffff"/><text x="980.5" y="494.5" text-anchor="middle" font-family="Liberation Sans" font-size="27" fill="#25b8b8" stroke="#ffffff" stroke-width="0.7">2</text>
 <rect x="1006.8" y="466.5" width="37" height="37" rx="5" fill="#25b8b8"/><text x="1025.3" y="494.5" text-anchor="middle" font-family="Liberation Sans" font-size="27" fill="#ffffff" stroke="#25b8b8" stroke-width="0.7">1</text>
 <rect x="1051.5" y="466.5" width="37" height="37" rx="5" fill="#25b8b8"/><text x="1070.0" y="494.5" text-anchor="middle" font-family="Liberation Sans" font-size="27" fill="#ffffff" stroke="#25b8b8" stroke-width="0.7">3</text>
 <rect x="1096.8" y="466.5" width="37" height="37" rx="5" fill="#ffffff"/><text x="1115.3" y="494.5" text-anchor="middle" font-family="Liberation Sans" font-size="27" fill="#25b8b8" stroke="#ffffff" stroke-width="0.7">1</text>
 <rect x="962" y="511.7" width="37" height="37" rx="5" fill="#ffffff"/><text x="980.5" y="539.7" text-anchor="middle" font-family="Liberation Sans" font-size="27" fill="#25b8b8" stroke="#ffffff" stroke-width="0.7">2</text>
 <rect x="1006.8" y="511.7" width="37" height="37" rx="5" fill="#ffffff"/><text x="1025.3" y="539.7" text-anchor="middle" font-family="Liberation Sans" font-size="27" fill="#25b8b8" stroke="#ffffff" stroke-width="0.7">2</text>
 <rect x="1051.5" y="511.7" width="37" height="37" rx="5" fill="#25b8b8"/><text x="1070.0" y="539.7" text-anchor="middle" font-family="Liberation Sans" font-size="27" fill="#ffffff" stroke="#25b8b8" stroke-width="0.7">1</text>
 <rect x="1096.8" y="511.7" width="37" height="37" rx="5" fill="#ffffff"/><text x="1115.3" y="539.7" text-anchor="middle" font-family="Liberation Sans" font-size="27" fill="#25b8b8" stroke="#ffffff" stroke-width="0.7">2</text>
 <rect x="962" y="557" width="37" height="37" rx="5" fill="#ffffff"/><text x="980.5" y="585" text-anchor="middle" font-family="Liberation Sans" font-size="27" fill="#25b8b8" stroke="#ffffff" stroke-width="0.7">1</text>
 <rect x="1006.8" y="557" width="37" height="37" rx="5" fill="#ffffff"/><text x="1025.3" y="585" text-anchor="middle" font-family="Liberation Sans" font-size="27" fill="#25b8b8" stroke="#ffffff" stroke-width="0.7">3</text>
 <rect x="1051.5" y="557" width="37" height="37" rx="5" fill="#25b8b8"/><text x="1070.0" y="585" text-anchor="middle" font-family="Liberation Sans" font-size="27" fill="#ffffff" stroke="#25b8b8" stroke-width="0.7">2</text>
 <rect x="1096.8" y="557" width="37" height="37" rx="5" fill="#ffffff"/><text x="1115.3" y="585" text-anchor="middle" font-family="Liberation Sans" font-size="27" fill="#25b8b8" stroke="#ffffff" stroke-width="0.7">3</text>
 <g fill="none" stroke="#5a5a5a" stroke-width="1.5" stroke-linecap="round" stroke-linejoin="round">
  <path d="M1086 588 L1097 602 M1086 588 Q1083.5 584 1087 582.5 Q1090 581.5 1092.5 585 L1101 597"/>
  <path d="M1099 596 Q1099 590.5 1104 591.5 L1109 598 M1104 591.5 Q1107 588 1111 591 L1116 599 M1111 591 Q1115 589 1118 593 Q1126 602 1126.5 612"/>
  <path d="M1097 602 Q1090 600 1086 604 Q1085 607 1089 609 Q1097 613 1104 621 M1087 617.5 L1110 624.5"/>
  <path d="M1076 588 L1080 589 M1079.5 579.5 L1082.5 582.5 M1087 577 L1087.5 580.5 M1094.5 584 L1092 586 M1079.5 595.5 L1082.5 593"/>
 </g>
 <text x="1042.8" y="643" text-anchor="middle" font-family="Liberation Sans" font-size="19.6" fill="#444" letter-spacing="0.9">Drag through the numbers</text>
 <text x="1042.8" y="673" text-anchor="middle" font-family="Liberation Sans" font-size="19.6" fill="#444" letter-spacing="0.9">to make the indicated value</text>
 <rect x="862.3" y="670" width="371.2" height="20.4" fill="#e8e8e8" opacity="0"/>
 <rect x="901.7" y="670" width="292.3" height="60" rx="6" fill="#ffa800"/>
 <text x="1047.5" y="709.6" text-anchor="middle" font-family="Liberation Sans" font-size="28" fill="#fff" stroke="#ffa800" stroke-width="0.5" textLength="67" lengthAdjust="spacingAndGlyphs">Start</text>
 <rect x="892.85" y="658.85" width="312.9" height="86.6" rx="16" fill="none" stroke="#ff0000" stroke-width="7.7"/>
 <rect x="961" y="836.5" width="173" height="3" rx="1.5" fill="#222"/>
</svg>

<!-- PANEL 3 -->
<div class="a" style="left:1540px;top:85px;width:574px;height:763px;background:#ffffff;"></div>
<div class="a" style="left:1548px;top:94px;width:558px;height:746.5px;background:#e8e8e8;"></div>
<div class="a" style="left:1548px;top:94px;width:559px;height:55px;background:#02b9ba;"></div>
<svg class="a" style="left:1540px;top:85px" width="574" height="763" viewBox="1540 85 574 763">
 <path d="M1588 105.5 L1572.5 120.5 L1588 135.5" fill="none" stroke="#fff" stroke-width="2.8"/>
 <text x="1827.7" y="132" text-anchor="middle" font-family="Liberation Sans" font-size="34.6" fill="#fff" stroke="#02b9ba" stroke-width="0.6" textLength="150" lengthAdjust="spacingAndGlyphs">TRAINING</text>
 <text x="1827.3" y="303.3" text-anchor="middle" font-family="Liberation Sans" font-size="107" fill="#333" stroke="#e8e8e8" stroke-width="1.6">6</text>
 <text x="1939" y="284" text-anchor="middle" font-family="Liberation Sans" font-size="52" fill="#333" stroke="#e8e8e8" stroke-width="0.9">4</text>
 <text x="2053" y="284" text-anchor="middle" font-family="Liberation Sans" font-size="52" fill="#333" stroke="#e8e8e8" stroke-width="0.9">7</text>
 <rect x="1630.8" y="373.0" width="73.2" height="73" rx="6" fill="#ffffff"/><text x="1667.4" y="429.9" text-anchor="middle" font-family="Liberation Sans" font-size="54.6" fill="#02b9ba" stroke="#ffffff" stroke-width="1.1">3</text>
 <rect x="1710.7" y="373.0" width="73.2" height="73" rx="6" fill="#ffffff"/><text x="1747.3" y="429.9" text-anchor="middle" font-family="Liberation Sans" font-size="54.6" fill="#02b9ba" stroke="#ffffff" stroke-width="1.1">3</text>
 <rect x="1790.6" y="373.0" width="73.2" height="73" rx="6" fill="#ffffff"/><text x="1827.2" y="429.9" text-anchor="middle" font-family="Liberation Sans" font-size="54.6" fill="#02b9ba" stroke="#ffffff" stroke-width="1.1">1</text>
 <rect x="1870.5" y="373.0" width="73.2" height="73" rx="6" fill="#ffffff"/><text x="1907.1" y="429.9" text-anchor="middle" font-family="Liberation Sans" font-size="54.6" fill="#02b9ba" stroke="#ffffff" stroke-width="1.1">3</text>
 <rect x="1950.4" y="373.0" width="73.2" height="73" rx="6" fill="#ffffff"/><text x="1987.0" y="429.9" text-anchor="middle" font-family="Liberation Sans" font-size="54.6" fill="#02b9ba" stroke="#ffffff" stroke-width="1.1">1</text>
 <rect x="1630.8" y="452.8" width="73.2" height="73" rx="6" fill="#ffffff"/><text x="1667.4" y="509.7" text-anchor="middle" font-family="Liberation Sans" font-size="54.6" fill="#02b9ba" stroke="#ffffff" stroke-width="1.1">1</text>
 <rect x="1710.7" y="452.8" width="73.2" height="73" rx="6" fill="#ffffff"/><text x="1747.3" y="509.7" text-anchor="middle" font-family="Liberation Sans" font-size="54.6" fill="#02b9ba" stroke="#ffffff" stroke-width="1.1">1</text>
 <rect x="1790.6" y="452.8" width="73.2" height="73" rx="6" fill="#ffffff"/><text x="1827.2" y="509.7" text-anchor="middle" font-family="Liberation Sans" font-size="54.6" fill="#02b9ba" stroke="#ffffff" stroke-width="1.1">3</text>
 <rect x="1870.5" y="452.8" width="73.2" height="73" rx="6" fill="#ffffff"/><text x="1907.1" y="509.7" text-anchor="middle" font-family="Liberation Sans" font-size="54.6" fill="#02b9ba" stroke="#ffffff" stroke-width="1.1">2</text>
 <rect x="1950.4" y="452.8" width="73.2" height="73" rx="6" fill="#ffffff"/><text x="1987.0" y="509.7" text-anchor="middle" font-family="Liberation Sans" font-size="54.6" fill="#02b9ba" stroke="#ffffff" stroke-width="1.1">2</text>
 <rect x="1630.8" y="532.6" width="73.2" height="73" rx="6" fill="#ffffff"/><text x="1667.4" y="589.5" text-anchor="middle" font-family="Liberation Sans" font-size="54.6" fill="#02b9ba" stroke="#ffffff" stroke-width="1.1">2</text>
 <rect x="1710.7" y="532.6" width="73.2" height="73" rx="6" fill="#02b9ba"/><text x="1747.3" y="589.5" text-anchor="middle" font-family="Liberation Sans" font-size="54.6" fill="#ffffff" stroke="#02b9ba" stroke-width="1.1">2</text>
 <rect x="1790.6" y="532.6" width="73.2" height="73" rx="6" fill="#02b9ba"/><text x="1827.2" y="589.5" text-anchor="middle" font-family="Liberation Sans" font-size="54.6" fill="#ffffff" stroke="#02b9ba" stroke-width="1.1">2</text>
 <rect x="1870.5" y="532.6" width="73.2" height="73" rx="6" fill="#02b9ba"/><text x="1907.1" y="589.5" text-anchor="middle" font-family="Liberation Sans" font-size="54.6" fill="#ffffff" stroke="#02b9ba" stroke-width="1.1">2</text>
 <rect x="1950.4" y="532.6" width="73.2" height="73" rx="6" fill="#ffffff"/><text x="1987.0" y="589.5" text-anchor="middle" font-family="Liberation Sans" font-size="54.6" fill="#02b9ba" stroke="#ffffff" stroke-width="1.1">1</text>
 <rect x="1630.8" y="612.4" width="73.2" height="73" rx="6" fill="#ffffff"/><text x="1667.4" y="669.3" text-anchor="middle" font-family="Liberation Sans" font-size="54.6" fill="#02b9ba" stroke="#ffffff" stroke-width="1.1">2</text>
 <rect x="1710.7" y="612.4" width="73.2" height="73" rx="6" fill="#ffffff"/><text x="1747.3" y="669.3" text-anchor="middle" font-family="Liberation Sans" font-size="54.6" fill="#02b9ba" stroke="#ffffff" stroke-width="1.1">3</text>
 <rect x="1790.6" y="612.4" width="73.2" height="73" rx="6" fill="#ffffff"/><text x="1827.2" y="669.3" text-anchor="middle" font-family="Liberation Sans" font-size="54.6" fill="#02b9ba" stroke="#ffffff" stroke-width="1.1">2</text>
 <rect x="1870.5" y="612.4" width="73.2" height="73" rx="6" fill="#ffffff"/><text x="1907.1" y="669.3" text-anchor="middle" font-family="Liberation Sans" font-size="54.6" fill="#02b9ba" stroke="#ffffff" stroke-width="1.1">2</text>
 <rect x="1950.4" y="612.4" width="73.2" height="73" rx="6" fill="#ffffff"/><text x="1987.0" y="669.3" text-anchor="middle" font-family="Liberation Sans" font-size="54.6" fill="#02b9ba" stroke="#ffffff" stroke-width="1.1">2</text>
 <rect x="1630.8" y="692.2" width="73.2" height="73" rx="6" fill="#ffffff"/><text x="1667.4" y="749.1" text-anchor="middle" font-family="Liberation Sans" font-size="54.6" fill="#02b9ba" stroke="#ffffff" stroke-width="1.1">1</text>
 <rect x="1710.7" y="692.2" width="73.2" height="73" rx="6" fill="#ffffff"/><text x="1747.3" y="749.1" text-anchor="middle" font-family="Liberation Sans" font-size="54.6" fill="#02b9ba" stroke="#ffffff" stroke-width="1.1">1</text>
 <rect x="1790.6" y="692.2" width="73.2" height="73" rx="6" fill="#ffffff"/><text x="1827.2" y="749.1" text-anchor="middle" font-family="Liberation Sans" font-size="54.6" fill="#02b9ba" stroke="#ffffff" stroke-width="1.1">2</text>
 <rect x="1870.5" y="692.2" width="73.2" height="73" rx="6" fill="#ffffff"/><text x="1907.1" y="749.1" text-anchor="middle" font-family="Liberation Sans" font-size="54.6" fill="#02b9ba" stroke="#ffffff" stroke-width="1.1">3</text>
 <rect x="1950.4" y="692.2" width="73.2" height="73" rx="6" fill="#ffffff"/><text x="1987.0" y="749.1" text-anchor="middle" font-family="Liberation Sans" font-size="54.6" fill="#02b9ba" stroke="#ffffff" stroke-width="1.1">3</text>
 <rect x="1740" y="836" width="174" height="3" rx="1.5" fill="#111"/>
</svg>

<!-- PANEL 4 -->
<div class="a" style="left:2323px;top:90px;width:565.6px;height:753px;background:#1b1b1b;"></div>
<div class="a" style="left:2327px;top:94px;width:557.2px;height:745.6px;background:#ffffff;"></div>
<svg class="a" style="left:2323px;top:90px" width="566" height="753" viewBox="2323 90 566 753">
 <text x="2606" y="154" text-anchor="middle" font-family="Liberation Sans" font-weight="bold" font-size="27.8" fill="#1c1c1c" textLength="152" lengthAdjust="spacingAndGlyphs">НАЗВАНИЕ</text>
 <text x="2605.7" y="193.1" text-anchor="middle" font-family="Liberation Sans" font-weight="bold" font-size="27.8" fill="#1c1c1c" textLength="266.5" lengthAdjust="spacingAndGlyphs">РЕЗУЛЬТАТЫ ИГРЫ</text>
 <rect x="-4.6" y="-2.3" width="9.2" height="4.6" fill="#0aa6f0" transform="translate(2450.25,243.52) rotate(-86.5)"/><rect x="-4.6" y="-2.3" width="9.2" height="4.6" fill="#0aa6f0" transform="translate(2457.90,244.45) rotate(-79.6)"/><rect x="-4.6" y="-2.3" width="9.2" height="4.6" fill="#0aa6f0" transform="translate(2465.38,246.29) rotate(-72.7)"/><rect x="-4.6" y="-2.3" width="9.2" height="4.6" fill="#0aa6f0" transform="translate(2472.58,249.02) rotate(-65.8)"/><rect x="-4.6" y="-2.3" width="9.2" height="4.6" fill="#0aa6f0" transform="translate(2479.41,252.60) rotate(-58.8)"/><rect x="-4.6" y="-2.3" width="9.2" height="4.6" fill="#0aa6f0" transform="translate(2485.75,256.98) rotate(-51.9)"/><rect x="-4.6" y="-2.3" width="9.2" height="4.6" fill="#0aa6f0" transform="translate(2491.51,262.09) rotate(-45.0)"/><rect x="-4.6" y="-2.3" width="9.2" height="4.6" fill="#0aa6f0" transform="translate(2496.62,267.85) rotate(-38.1)"/><rect x="-4.6" y="-2.3" width="9.2" height="4.6" fill="#0aa6f0" transform="translate(2501.00,274.19) rotate(-31.2)"/><rect x="-4.6" y="-2.3" width="9.2" height="4.6" fill="#0aa6f0" transform="translate(2504.58,281.02) rotate(-24.2)"/><rect x="-4.6" y="-2.3" width="9.2" height="4.6" fill="#0aa6f0" transform="translate(2507.31,288.22) rotate(-17.3)"/><rect x="-4.6" y="-2.3" width="9.2" height="4.6" fill="#0aa6f0" transform="translate(2509.15,295.70) rotate(-10.4)"/><rect x="-4.6" y="-2.3" width="9.2" height="4.6" fill="#0aa6f0" transform="translate(2510.08,303.35) rotate(-3.5)"/><rect x="-4.6" y="-2.3" width="9.2" height="4.6" fill="#0aa6f0" transform="translate(2510.08,311.05) rotate(3.5)"/><rect x="-4.6" y="-2.3" width="9.2" height="4.6" fill="#0aa6f0" transform="translate(2509.15,318.70) rotate(10.4)"/><rect x="-4.6" y="-2.3" width="9.2" height="4.6" fill="#0aa6f0" transform="translate(2507.31,326.18) rotate(17.3)"/><rect x="-4.6" y="-2.3" width="9.2" height="4.6" fill="#0aa6f0" transform="translate(2504.58,333.38) rotate(24.2)"/><rect x="-4.6" y="-2.3" width="9.2" height="4.6" fill="#0aa6f0" transform="translate(2501.00,340.21) rotate(31.2)"/><rect x="-4.6" y="-2.3" width="9.2" height="4.6" fill="#0aa6f0" transform="translate(2496.62,346.55) rotate(38.1)"/><rect x="-4.6" y="-2.3" width="9.2" height="4.6" fill="#0aa6f0" transform="translate(2491.51,352.31) rotate(45.0)"/><rect x="-4.6" y="-2.3" width="9.2" height="4.6" fill="#0aa6f0" transform="translate(2485.75,357.42) rotate(51.9)"/><rect x="-4.6" y="-2.3" width="9.2" height="4.6" fill="#0aa6f0" transform="translate(2479.41,361.80) rotate(58.8)"/><rect x="-4.6" y="-2.3" width="9.2" height="4.6" fill="#0aa6f0" transform="translate(2472.58,365.38) rotate(65.8)"/><rect x="-4.6" y="-2.3" width="9.2" height="4.6" fill="#0aa6f0" transform="translate(2465.38,368.11) rotate(72.7)"/><rect x="-4.6" y="-2.3" width="9.2" height="4.6" fill="#0aa6f0" transform="translate(2457.90,369.95) rotate(79.6)"/><rect x="-4.6" y="-2.3" width="9.2" height="4.6" fill="#0aa6f0" transform="translate(2450.25,370.88) rotate(86.5)"/><rect x="-4.6" y="-2.3" width="9.2" height="4.6" fill="#d4d4d4" transform="translate(2442.55,370.88) rotate(93.5)"/><rect x="-4.6" y="-2.3" width="9.2" height="4.6" fill="#d4d4d4" transform="translate(2434.90,369.95) rotate(100.4)"/><rect x="-4.6" y="-2.3" width="9.2" height="4.6" fill="#d4d4d4" transform="translate(2427.42,368.11) rotate(107.3)"/><rect x="-4.6" y="-2.3" width="9.2" height="4.6" fill="#d4d4d4" transform="translate(2420.22,365.38) rotate(114.2)"/><rect x="-4.6" y="-2.3" width="9.2" height="4.6" fill="#d4d4d4" transform="translate(2413.39,361.80) rotate(121.2)"/><rect x="-4.6" y="-2.3" width="9.2" height="4.6" fill="#d4d4d4" transform="translate(2407.05,357.42) rotate(128.1)"/><rect x="-4.6" y="-2.3" width="9.2" height="4.6" fill="#d4d4d4" transform="translate(2401.29,352.31) rotate(135.0)"/><rect x="-4.6" y="-2.3" width="9.2" height="4.6" fill="#d4d4d4" transform="translate(2396.18,346.55) rotate(141.9)"/><rect x="-4.6" y="-2.3" width="9.2" height="4.6" fill="#d4d4d4" transform="translate(2391.80,340.21) rotate(148.8)"/><rect x="-4.6" y="-2.3" width="9.2" height="4.6" fill="#d4d4d4" transform="translate(2388.22,333.38) rotate(155.8)"/><rect x="-4.6" y="-2.3" width="9.2" height="4.6" fill="#d4d4d4" transform="translate(2385.49,326.18) rotate(162.7)"/><rect x="-4.6" y="-2.3" width="9.2" height="4.6" fill="#d4d4d4" transform="translate(2383.65,318.70) rotate(169.6)"/><rect x="-4.6" y="-2.3" width="9.2" height="4.6" fill="#d4d4d4" transform="translate(2382.72,311.05) rotate(176.5)"/><rect x="-4.6" y="-2.3" width="9.2" height="4.6" fill="#d4d4d4" transform="translate(2382.72,303.35) rotate(183.5)"/><rect x="-4.6" y="-2.3" width="9.2" height="4.6" fill="#d4d4d4" transform="translate(2383.65,295.70) rotate(190.4)"/><rect x="-4.6" y="-2.3" width="9.2" height="4.6" fill="#d4d4d4" transform="translate(2385.49,288.22) rotate(197.3)"/><rect x="-4.6" y="-2.3" width="9.2" height="4.6" fill="#d4d4d4" transform="translate(2388.22,281.02) rotate(204.2)"/><rect x="-4.6" y="-2.3" width="9.2" height="4.6" fill="#d4d4d4" transform="translate(2391.80,274.19) rotate(211.2)"/><rect x="-4.6" y="-2.3" width="9.2" height="4.6" fill="#d4d4d4" transform="translate(2396.18,267.85) rotate(218.1)"/><rect x="-4.6" y="-2.3" width="9.2" height="4.6" fill="#d4d4d4" transform="translate(2401.29,262.09) rotate(225.0)"/><rect x="-4.6" y="-2.3" width="9.2" height="4.6" fill="#d4d4d4" transform="translate(2407.05,256.98) rotate(231.9)"/><rect x="-4.6" y="-2.3" width="9.2" height="4.6" fill="#d4d4d4" transform="translate(2413.39,252.60) rotate(238.8)"/><rect x="-4.6" y="-2.3" width="9.2" height="4.6" fill="#d4d4d4" transform="translate(2420.22,249.02) rotate(245.8)"/><rect x="-4.6" y="-2.3" width="9.2" height="4.6" fill="#d4d4d4" transform="translate(2427.42,246.29) rotate(252.7)"/><rect x="-4.6" y="-2.3" width="9.2" height="4.6" fill="#d4d4d4" transform="translate(2434.90,244.45) rotate(259.6)"/><rect x="-4.6" y="-2.3" width="9.2" height="4.6" fill="#d4d4d4" transform="translate(2442.55,243.52) rotate(266.5)"/>
 <text x="2447" y="305.3" text-anchor="middle" font-family="Liberation Sans" font-size="32" fill="#333" textLength="68" lengthAdjust="spacingAndGlyphs">640</text>
 <rect x="2407" y="312.9" width="78.6" height="1.6" fill="#cfcfcf"/>
 <text x="2445.7" y="333.3" text-anchor="middle" font-family="Liberation Sans" font-size="15" fill="#444" textLength="39.4" lengthAdjust="spacingAndGlyphs">1000</text>
 <text x="2547.5" y="289" font-family="Liberation Sans" font-weight="bold" font-size="25" fill="#333" textLength="288" lengthAdjust="spacingAndGlyphs">Your Peak Brain Score</text>
 <text x="2547.5" y="322.6" font-family="Liberation Sans" font-size="19.5" fill="#858585" textLength="232" lengthAdjust="spacingAndGlyphs">This is your overall Peak</text>
 <text x="2547.5" y="347" font-family="Liberation Sans" font-size="19.5" fill="#858585" textLength="122" lengthAdjust="spacingAndGlyphs">performance</text>
 <g transform="translate(2454.6,493) scale(1.06)"><clipPath id="pcr1"><circle cx="0" cy="0" r="45.5"/></clipPath><circle cx="0" cy="0" r="50" fill="#b8682e"/><circle cx="0" cy="0" r="47.5" fill="#d08a48" opacity="0.5"/><g clip-path="url(#pcr1)"><rect x="-50" y="-50" width="100" height="100" fill="#1d2a5e"/><circle cx="-40" cy="-30" r="25" fill="#d8a060" opacity="0.45"/><circle cx="45" cy="20" r="26" fill="#2f8f70" opacity="0.7"/><circle cx="42" cy="-10" r="14" fill="#3a70c0" opacity="0.7"/><circle cx="-38" cy="10" r="0.9" fill="#fff"/><circle cx="-32" cy="28" r="0.8" fill="#fff"/><circle cx="-22" cy="40" r="0.8" fill="#fff"/><circle cx="-40" cy="22" r="0.7" fill="#fff"/><path d="M-30 -5 Q-34 -44 5 -44 Q40 -42 38 -8 Q36 20 18 34 L0 34 Z" fill="#77738a"/><circle cx="28" cy="-20" r="15" fill="#6e6b7c"/><ellipse cx="24" cy="-25" rx="7" ry="5" fill="#a8a4b8" opacity="0.8"/><path d="M-4 14 L14 10 L20 50 L-14 50 Z" fill="#f3cfc0"/><path d="M14 32 Q32 22 50 30 L50 50 L10 50 Z" fill="#e6dcd8"/><path d="M-26 -20 Q-30 -8 -33 2 L-37 8 L-32 11 Q-31 16 -30 19 Q-26 30 -14 30 Q0 26 10 10 L14 -8 L8 -24 Z" fill="#f3cfc0"/><ellipse cx="13" cy="0" rx="4.5" ry="7" fill="#e8b8a8"/><path d="M-30 -12 Q-28 -42 2 -42 Q26 -42 34 -16 Q20 -30 0 -28 Q-16 -26 -22 -14 Q-26 -4 -27 8 Z" fill="#b9b5c9"/><path d="M-22 -34 Q-5 -40 12 -36" stroke="#e0dcea" stroke-width="2.5" fill="none" opacity="0.8"/><path d="M-26 -3 q3 -3 6 0" stroke="#4a2028" stroke-width="1.5" fill="none"/><ellipse cx="-23" cy="-1" rx="2.2" ry="2" fill="#7a2838"/><path d="M-12 -4 q4 -3 8 0" stroke="#4a2028" stroke-width="1.5" fill="none"/><ellipse cx="-8" cy="-2" rx="3" ry="2.5" fill="#7a2838"/><path d="M-30 18 q3 1.5 6 0" stroke="#d86a6a" stroke-width="1.8" fill="none"/></g></g>
 <rect x="2545.80" y="451.5" width="5.11" height="23.5" fill="#10a07e"/><rect x="2554.32" y="451.5" width="5.11" height="23.5" fill="#10a07e"/><rect x="2562.83" y="451.5" width="5.11" height="23.5" fill="#10a07e"/><rect x="2571.35" y="451.5" width="5.11" height="23.5" fill="#10a07e"/><rect x="2579.86" y="451.5" width="5.11" height="23.5" fill="#10a07e"/><rect x="2588.38" y="451.5" width="5.11" height="23.5" fill="#10a07e"/><rect x="2596.90" y="451.5" width="5.11" height="23.5" fill="#10a07e"/><rect x="2605.41" y="451.5" width="5.11" height="23.5" fill="#10a07e"/><rect x="2613.93" y="451.5" width="5.11" height="23.5" fill="#10a07e"/><rect x="2622.45" y="451.5" width="5.11" height="23.5" fill="#10a07e"/><rect x="2630.96" y="451.5" width="5.11" height="23.5" fill="#10a07e"/><rect x="2639.48" y="451.5" width="5.11" height="23.5" fill="#10a07e"/><rect x="2647.99" y="451.5" width="5.11" height="23.5" fill="#10a07e"/><rect x="2656.51" y="451.5" width="5.11" height="23.5" fill="#10a07e"/><rect x="2665.03" y="451.5" width="5.11" height="23.5" fill="#10a07e"/><rect x="2673.54" y="451.5" width="5.11" height="23.5" fill="#10a07e"/><rect x="2682.06" y="451.5" width="5.11" height="23.5" fill="#10a07e"/><rect x="2690.57" y="451.5" width="5.11" height="23.5" fill="#f08018"/><rect x="2699.09" y="451.5" width="5.11" height="23.5" fill="#f5a830"/>
 <text x="2716" y="473.1" font-family="Liberation Sans" font-weight="bold" font-size="25" fill="#1a1a1a" textLength="70" lengthAdjust="spacingAndGlyphs">+ 200</text>
 <text x="2543" y="506.6" font-family="Liberation Sans" font-weight="bold" font-size="26" fill="#1a1a1a" textLength="50" lengthAdjust="spacingAndGlyphs">EXP</text>
 <text x="2716" y="506.6" font-family="Liberation Sans" font-weight="bold" font-size="25" fill="#1a1a1a" textLength="70" lengthAdjust="spacingAndGlyphs">+ 200</text>
 <text x="2543" y="566.8" font-family="Liberation Sans" font-weight="bold" font-size="27" fill="#17d6ae" textLength="157.7" lengthAdjust="spacingAndGlyphs">NEW LEVEL!</text>
 <text x="2543" y="599.5" font-family="Liberation Sans" font-weight="bold" font-size="26.5" fill="#1a1a1a" textLength="156" lengthAdjust="spacingAndGlyphs">LEVEL 2 -&gt; 3</text>
 <text x="2544.6" y="623" font-family="Liberation Sans" font-size="14.5" fill="#3a3a3a" textLength="36" lengthAdjust="spacingAndGlyphs">Урон</text><rect x="2687" y="611.8" width="10.0" height="11.9" fill="#2e9aee"/><rect x="2697" y="611.8" width="12.2" height="11.9" fill="#10d4a8"/>
 <text x="2544.6" y="644.1" font-family="Liberation Sans" font-size="14.5" fill="#3a3a3a" textLength="112.5" lengthAdjust="spacingAndGlyphs">Скорость атаки</text><rect x="2688" y="634.5" width="46.2" height="11.5" fill="#2e9aee"/><rect x="2734.2" y="634.5" width="17.9" height="11.5" fill="#10d4a8"/>
 <text x="2544.6" y="665.9" font-family="Liberation Sans" font-size="14.5" fill="#3a3a3a" textLength="76.4" lengthAdjust="spacingAndGlyphs">Крит. удар</text><rect x="2688" y="657" width="23.0" height="12.0" fill="#2e9aee"/>
 <text x="2544.6" y="688.1" font-family="Liberation Sans" font-size="14.5" fill="#3a3a3a" textLength="44.4" lengthAdjust="spacingAndGlyphs">Броня</text><rect x="2688" y="677.4" width="46.2" height="11.9" fill="#2e9aee"/><rect x="2734.2" y="677.4" width="15.6" height="11.9" fill="#10d4a8"/>
 <text x="2544.6" y="709.5" font-family="Liberation Sans" font-size="14.5" fill="#3a3a3a" textLength="42.9" lengthAdjust="spacingAndGlyphs">Щиты</text><rect x="2687" y="700.3" width="12.3" height="11.8" fill="#2e9aee"/>
 <text x="2544.6" y="731" font-family="Liberation Sans" font-size="14.5" fill="#3a3a3a" textLength="80.4" lengthAdjust="spacingAndGlyphs">Уклонение</text><rect x="2687" y="720.7" width="12.3" height="12.1" fill="#2e9aee"/>

 <rect x="2540.8" y="767.8" width="79.9" height="59.8" fill="#3a3a3a"/>
 <rect x="2788.4" y="768.3" width="80.3" height="59.3" fill="#353535"/>
 <rect x="2454.95" y="772.55" width="155.1" height="52" rx="6" fill="#fdf13f" stroke="#ff0000" stroke-width="7.7"/>
 <rect x="2623.55" y="772.55" width="149.1" height="52" rx="6" fill="#fdf13f" stroke="#ff0000" stroke-width="7.7"/>
 <text x="2532.6" y="808.8" text-anchor="middle" font-family="Liberation Sans" font-weight="bold" font-size="27" fill="#1a1a1a" textLength="115" lengthAdjust="spacingAndGlyphs">СПИСОК</text>
 <text x="2695.7" y="808.8" text-anchor="middle" font-family="Liberation Sans" font-weight="bold" font-size="27" fill="#1a1a1a" textLength="118.7" lengthAdjust="spacingAndGlyphs">ЕЩЕ РАЗ</text>
 <g fill="none" stroke="#f4f4f4" stroke-width="1.3" stroke-linejoin="round" stroke-linecap="round">
  <path d="M2818.2 781.1 H2839 V786 Q2838.5 796 2828.6 803.7 Q2818.7 796 2818.2 786 Z"/>
  <path d="M2818.2 785.7 H2814.3 Q2814.3 794 2821.5 796.5 M2839 785.7 H2843.2 Q2843.2 794 2836 796.5"/>
  <path d="M2828.6 803.7 Q2828 810 2820.9 812.8 H2836.6 Q2829.5 810 2828.6 803.7 Z"/>
 </g>
 <polygon points="2828.4,785.6 2829.3,787.9 2831.6,788 2829.8,789.5 2830.4,791.8 2828.4,790.5 2826.4,791.8 2827,789.5 2825.2,788 2827.5,787.9" fill="#f4f4f4"/>
</svg>

<svg class="a" style="left:0;top:0" width="2941" height="1043" viewBox="0 0 2941 1043">
 <g fill="none" stroke="#2e9bf0" stroke-width="2.9">
  <path d="M457.7 404.3 C585.7 404.3 609.4 239.5 618.6 193.3 C630.1 135.4 670.1 46.2 741 46.2"/>
  <path d="M1209.8 702.3 C1435.5 702.3 1466 428.3 1466 379.6 C1465.8 282.7 1398.7 46.7 1533 46.7"/>
  <path d="M2111.4 466.6 C2296.3 460.3 2116.7 63.5 2298 46.2"/>
 </g>
 <g fill="#2e9bf0">
  <polygon points="739.7,33.8 765,46.2 739.7,58.9"/>
  <polygon points="1531,33.7 1556,46.7 1531,59.7"/>
  <polygon points="2296.5,34.1 2322,46.2 2296.5,58.7"/>
 </g>
 <g fill="#2b2a29">
  <rect x="560" y="147" width="125" height="74"/>
  <rect x="1410" y="363" width="108" height="74.5"/>
  <rect x="2125" y="225.5" width="162" height="74.7"/>
 </g>
 <g font-family="Liberation Sans" font-size="28" fill="#f4f4f4" text-anchor="middle">
  <text x="622.2" y="174" textLength="111.3" lengthAdjust="spacingAndGlyphs">ВЫБРАЛ</text>
  <text x="622.4" y="212.9" textLength="68.4" lengthAdjust="spacingAndGlyphs">ИГРУ</text>
  <text x="1463.8" y="391" textLength="94" lengthAdjust="spacingAndGlyphs">НАЧАЛ</text>
  <text x="1464" y="429.9" textLength="68.7" lengthAdjust="spacingAndGlyphs">ИГРУ</text>
  <text x="2206.2" y="252.9" textLength="151" lengthAdjust="spacingAndGlyphs">ЗАКОНЧИЛ</text>
  <text x="2206.6" y="291.9" textLength="69.1" lengthAdjust="spacingAndGlyphs">ИГРУ</text>
 </g>
 <g fill="none" stroke="#f8f8f8" stroke-width="2.9" stroke-linejoin="round">
  <path d="M2695.3 833 V880 Q2695.3 890.2 2685 890.2 H2544.3 A12 12 0 0 0 2520 890.2 H1058.4 Q1048.4 890.2 1048.4 880 V858"/>
  <path d="M2532.1 833 V938.5 Q2532.1 948.5 2522 948.5 H327 Q316.9 948.5 316.9 938.5 V858"/>
 </g>
 <g fill="#f8f8f8" stroke="#f8f8f8" stroke-width="2" stroke-linejoin="round">
  <path d="M1048.4 845 L1059 861.5 L1048.4 857.5 L1037.8 861.5 Z"/>
  <path d="M316.9 845.5 L327.5 862 L316.9 858 L306.3 862 Z"/>
 </g>
 <rect x="2940" y="0" width="1" height="1043" fill="#2a5068"/>
</svg>
</body></html>
